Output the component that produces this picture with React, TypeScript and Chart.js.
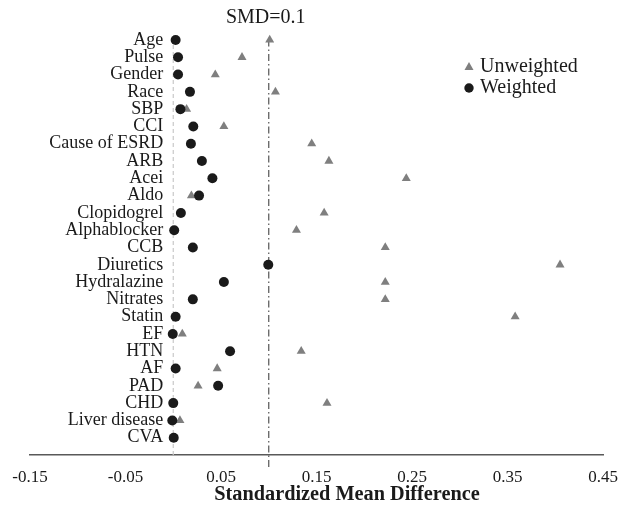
import { useEffect, useRef } from 'react';
import { Chart, registerables } from 'chart.js';

Chart.register(...registerables);

const categories = ['Age', 'Pulse', 'Gender', 'Race', 'SBP', 'CCI', 'Cause of ESRD', 'ARB', 'Acei', 'Aldo', 'Clopidogrel', 'Alphablocker', 'CCB', 'Diuretics', 'Hydralazine', 'Nitrates', 'Statin', 'EF', 'HTN', 'AF', 'PAD', 'CHD', 'Liver disease', 'CVA'];
const unweighted = [0.101, 0.072, 0.044, 0.107, 0.014, 0.053, 0.145, 0.163, 0.244, 0.019, 0.158, 0.129, 0.222, 0.405, 0.222, 0.222, 0.358, 0.0095, 0.134, 0.046, 0.026, 0.161, 0.007, 0.0005];
const weighted = [0.0025, 0.005, 0.005, 0.0175, 0.0075, 0.021, 0.0185, 0.03, 0.041, 0.027, 0.008, 0.001, 0.0205, 0.0995, 0.053, 0.0205, 0.0025, -0.0005, 0.0595, 0.0025, 0.047, 0.0, -0.001, 0.0005];
const xTicks = [-0.15, -0.05, 0.05, 0.15, 0.25, 0.35, 0.45];
const threshold = 0.1;
const zeroLine = 0;
const thresholdLabel = 'SMD=0.1';
const xTitle = 'Standardized Mean Difference';
const seriesNames = ['Unweighted', 'Weighted'];

const FONT = "'Liberation Serif', 'Times New Roman', serif";

export default function App() {
  const ref = useRef<HTMLCanvasElement | null>(null);
  useEffect(() => {
    const n = categories.length;
    const yOf = (i: number) => n - i;
    const overlay = {
      id: 'overlay',
      afterDraw(chart: any) {
        const ctx = chart.ctx;
        const xs = chart.scales.x;
        const ys = chart.scales.y;
        ctx.save();
        ctx.fillStyle = '#1a1a1a';
        // category labels
        ctx.font = `18px ${FONT}`;
        ctx.textAlign = 'right';
        ctx.textBaseline = 'middle';
        const lx = xs.getPixelForValue(zeroLine) - 10;
        categories.forEach((c, i) => {
          ctx.fillText(c, lx, ys.getPixelForValue(yOf(i)));
        });
        ctx.font = `20px ${FONT}`;
        ctx.textAlign = 'center';
        ctx.fillText(thresholdLabel, xs.getPixelForValue(threshold) - 3, 18);
        ctx.font = `bold 20.3px ${FONT}`;
        ctx.fillText(xTitle, 347, 495);
        // legend
        ctx.font = `20px ${FONT}`;
        ctx.textAlign = 'left';
        ctx.fillText(seriesNames[0], 480, 67);
        ctx.fillText(seriesNames[1], 480, 88);
        ctx.fillStyle = '#7f7f7f';
        ctx.beginPath();
        ctx.moveTo(469, 62);
        ctx.lineTo(473.5, 70);
        ctx.lineTo(464.5, 70);
        ctx.closePath();
        ctx.fill();
        ctx.fillStyle = '#1a1a1a';
        ctx.beginPath();
        ctx.arc(469, 88, 4.7, 0, Math.PI * 2);
        ctx.fill();
        ctx.restore();
      },
    };
    const chart = new Chart(ref.current!, {
      type: 'scatter',
      data: {
        datasets: [
          {
            label: seriesNames[1],
            data: weighted.map((v, i) => ({ x: v, y: yOf(i) })),
            pointStyle: 'circle',
            pointRadius: 5,
            backgroundColor: '#1a1a1a',
            borderColor: '#1a1a1a',
            borderWidth: 0,
          },
          {
            label: seriesNames[0],
            data: unweighted.map((v, i) => ({ x: v, y: yOf(i) })),
            pointStyle: 'triangle',
            pointRadius: 5.2,
            backgroundColor: '#7f7f7f',
            borderColor: '#7f7f7f',
            borderWidth: 0,
          },
          {
            label: 'threshold',
            data: [{ x: threshold, y: -0.7 }, { x: threshold, y: n + 0.1 }],
            showLine: true,
            pointRadius: 0,
            borderColor: '#555555',
            borderWidth: 1.2,
            borderDash: [7, 3, 1.5, 3],
            clip: false as any,
          } as any,
          {
            label: 'zero',
            data: [{ x: zeroLine, y: 0 }, { x: zeroLine, y: n + 0.1 }],
            showLine: true,
            pointRadius: 0,
            borderColor: '#c8c8c8',
            borderWidth: 1.2,
            borderDash: [4, 3],
            clip: false as any,
          } as any,
        ],
      },
      options: {
        responsive: false,
        animation: false,
        layout: { padding: { left: 30, right: 18, top: 22.7, bottom: 0 } },
        plugins: { legend: { display: false }, tooltip: { enabled: false } },
        scales: {
          x: {
            type: 'linear',
            min: -0.15,
            max: 0.45,
            afterBuildTicks: (axis: any) => {
              axis.ticks = xTicks.map((v) => ({ value: v }));
            },
            afterFit: (scale: any) => {
              scale.height = 53;
              scale.paddingLeft = 0;
              scale.paddingRight = 0;
            },
            grid: { display: false, drawTicks: false },
            border: { display: true, color: '#595959', width: 1.5 },
            ticks: {
              padding: 12,
              color: '#1a1a1a',
              font: { family: FONT, size: 17 },
              callback: (v: any) => Number(v).toFixed(2),
              maxRotation: 0,
              autoSkip: false,
            },
          },
          y: {
            type: 'linear',
            display: false,
            min: 0,
            max: n + 1,
          },
        },
      },
      plugins: [overlay],
    } as any);
    return () => chart.destroy();
  }, []);
  return (
    <div style={{ position: 'absolute', left: 0, top: 0, width: 621, height: 508, background: '#fff' }}>
      <canvas ref={ref} width={621} height={508} />
    </div>
  );
}
